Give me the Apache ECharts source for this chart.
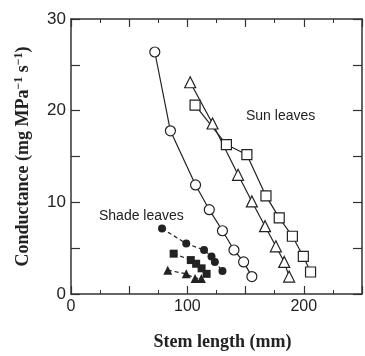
<!DOCTYPE html>
<html><head><meta charset="utf-8">
<script src="https://cdn.jsdelivr.net/npm/echarts@6/dist/echarts.min.js"></script>
<style>html,body{margin:0;padding:0;background:#fff}#c{width:365px;height:356px}</style>
</head><body><div id="c"></div>
<script>
// Sun leaves (open symbols, solid lines): [stem length mm, conductance]
const sunCircles = [[72,26.4],[85.4,17.8],[107,11.9],[118.8,9.2],[130.1,6.9],[140,4.8],[148.3,3.5],[155.4,1.9]];
const sunTriangles = [[102.4,23.1],[121.6,18.6],[143.5,13.0],[155.4,10.1],[166.7,7.4],[176,5.2],[183.2,3.5],[187.4,1.9]];
const sunSquares = [[106.6,20.6],[133.5,16.3],[151.1,15.2],[167.5,10.7],[178.9,8.3],[190.2,6.3],[199.6,4.1],[205.8,2.4]];
// Shade leaves (filled symbols, dashed lines)
const shadeCircles = [[78.2,7.15],[99,5.5],[114.3,4.8],[120.7,4.1],[123.6,3.5],[130.1,2.5]];
const shadeSquares = [[88.2,4.4],[102.9,3.7],[107.5,3.3],[112.2,2.8],[116.5,2.2]];
const shadeTriangles = [[83.1,2.6],[99,2.2],[106.6,1.7],[112,1.7]];
const xTickLabels = [0,100,200];
const yTickLabels = [0,10,20,30];

const ink = '#222';
const chart = echarts.init(document.getElementById('c'));
function openSeries(data, symbol, size){
  return {type:'line', data, symbol, symbolSize:size, showSymbol:true,
    lineStyle:{color:ink,width:1.2}, itemStyle:{color:'#fff',borderColor:ink,borderWidth:1.2},
    emphasis:{disabled:true}, z:3};
}
function filledSeries(data, symbol, size){
  return {type:'line', data, symbol, symbolSize:size, showSymbol:true,
    lineStyle:{color:ink,width:1.2,type:[4,3]}, itemStyle:{color:ink,borderColor:ink,borderWidth:0},
    emphasis:{disabled:true}, z:3};
}
const axLine = {show:true,onZero:false,lineStyle:{color:'#333',width:1.5}};
chart.setOption({
  animation:false,
  grid:{left:71,right:1,top:19,bottom:53,containLabel:false},
  xAxis:[{
    type:'value',min:0,max:250,interval:50,position:'bottom',
    axisLine:axLine,
    axisTick:{show:true,inside:true,length:8,lineStyle:{color:'#333',width:1.2}},
    minorTick:{show:true,splitNumber:2,length:4,lineStyle:{color:'#333',width:1}},
    splitLine:{show:false},
    axisLabel:{margin:5,fontFamily:'Liberation Sans',fontSize:16,color:'#222',
      formatter:v=>xTickLabels.includes(v)?String(v):''},
    name:'Stem length (mm)',nameLocation:'middle',nameGap:39,
    nameTextStyle:{fontFamily:'Liberation Serif',fontWeight:'bold',fontSize:18,color:'#222',padding:[0,0,0,12]}
  },{
    type:'value',min:0,max:250,interval:50,position:'top',
    axisLine:axLine,
    axisTick:{show:true,inside:true,length:8,lineStyle:{color:'#333',width:1.2}},
    minorTick:{show:true,splitNumber:2,length:4,lineStyle:{color:'#333',width:1}},
    splitLine:{show:false},axisLabel:{show:false}
  }],
  yAxis:[{
    type:'value',min:0,max:30,interval:5,position:'left',
    axisLine:axLine,
    axisTick:{show:true,inside:true,length:9,lineStyle:{color:'#333',width:1.2}},
    splitLine:{show:false},
    axisLabel:{margin:5,fontFamily:'Liberation Sans',fontSize:17,color:'#222',
      formatter:v=>yTickLabels.includes(v)?String(v):''},
    name:'Conductance (mg MPa{s|−1} s{s|−1})',nameLocation:'middle',nameGap:38,nameRotate:90,
    nameTextStyle:{fontFamily:'Liberation Serif',fontWeight:'bold',fontSize:18,color:'#222',
      rich:{s:{fontFamily:'Liberation Serif',fontWeight:'bold',fontSize:12,color:'#222',verticalAlign:'top',padding:[0,0,8,0]}}}
  },{
    type:'value',min:0,max:30,interval:5,position:'right',
    axisLine:axLine,
    axisTick:{show:true,inside:true,length:9,lineStyle:{color:'#333',width:1.2}},
    splitLine:{show:false},axisLabel:{show:false}
  }],
  graphic:[
    {type:'text',left:246,top:109,style:{text:'Sun leaves',font:'14px "Liberation Sans"',fill:'#222'}},
    {type:'text',left:99,top:209,style:{text:'Shade leaves',font:'14px "Liberation Sans"',fill:'#222'}}
  ],
  series:[
    openSeries(sunCircles,'circle',10),
    openSeries(sunTriangles,'triangle',11),
    openSeries(sunSquares,'rect',10),
    filledSeries(shadeCircles,'circle',8),
    filledSeries(shadeSquares,'rect',8),
    filledSeries(shadeTriangles,'triangle',9)
  ]
});
</script></body></html>
